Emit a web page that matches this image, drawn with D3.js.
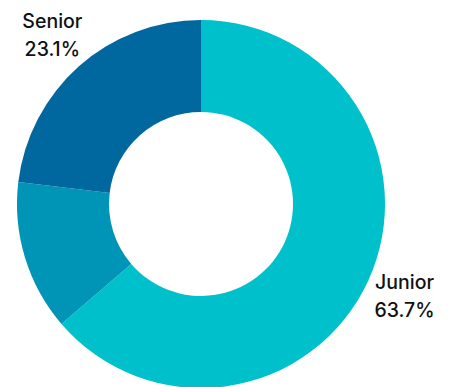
<!DOCTYPE html>
<html>
<head>
<meta charset="utf-8">
<script src="https://cdn.jsdelivr.net/npm/d3@7"></script>
<style>
  html, body { margin: 0; padding: 0; background: #fff; }
  svg { display: block; }
</style>
</head>
<body>
<div id="chart"></div>
<script>
// data
const categories = ['Junior', 'Mid-level', 'Senior'];
const shares = [63.7, 13.2, 23.1];
const colors = ['#00c1cb', '#0094b7', '#00679f'];

const width = 455;
const height = 387;
const cx = 201;
const cy = 204;
const outerR = 184;
const innerR = 92;
const labelR = 224;

const data = categories.map((c, i) => ({ name: c, value: shares[i], color: colors[i] }));

const svg = d3.select('#chart')
  .append('svg')
  .attr('width', width)
  .attr('height', height);

const g = svg.append('g')
  .attr('transform', `translate(${cx},${cy})`);

const pie = d3.pie()
  .sort(null)
  .value((d) => d.value);

const arc = d3.arc()
  .innerRadius(innerR)
  .outerRadius(outerR);

const arcs = pie(data);

g.selectAll('path')
  .data(arcs)
  .join('path')
  .attr('fill', (d) => d.data.color)
  .attr('d', arc);

// labels outside, along the mid angle; skip ones that fall off the page
const labelArc = d3.arc().innerRadius(labelR).outerRadius(labelR);

arcs.forEach((d) => {
  const [lx, ly] = labelArc.centroid(d);
  const t = g.append('text')
    .attr('text-anchor', 'middle')
    .attr('font-family', 'Inter, "Noto Sans", sans-serif')
    .attr('font-size', 19.5)
    .attr('font-weight', 500)
    .attr('fill', '#111');
  t.append('tspan').attr('x', lx).attr('y', ly - 8).text(d.data.name);
  t.append('tspan').attr('x', lx).attr('y', ly + 20).text(`${d3.format('.1f')(d.data.value)}%`);
  const bb = t.node().getBBox();
  if (cx + bb.x < 0 || cx + bb.x + bb.width > width) t.remove();
});
</script>
</body>
</html>
